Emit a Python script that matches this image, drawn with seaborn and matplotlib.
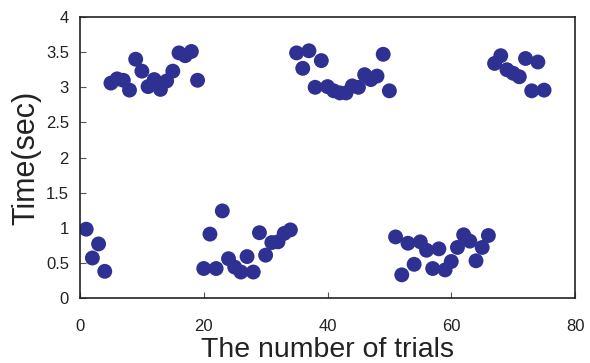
import seaborn as sns
import pandas as pd
import matplotlib.pyplot as plt

trials = list(range(1, 76))
times = [0.98, 0.57, 0.77, 0.38,
         3.06, 3.12, 3.10, 2.96, 3.40, 3.23, 3.01, 3.11, 2.97, 3.09, 3.23, 3.49, 3.45, 3.51, 3.10,
         0.42, 0.91, 0.42, 1.24, 0.56, 0.44, 0.37, 0.59, 0.37, 0.93, 0.61, 0.79, 0.80, 0.92, 0.97,
         3.49, 3.27, 3.52, 3.00, 3.38, 3.01, 2.95, 2.92, 2.92, 3.02, 3.00, 3.18, 3.11, 3.16, 3.47, 2.95,
         0.87, 0.33, 0.78, 0.48, 0.80, 0.68, 0.42, 0.70, 0.40, 0.52, 0.72, 0.90, 0.81, 0.53, 0.72, 0.89,
         3.34, 3.45, 3.25, 3.20, 3.15, 3.41, 2.95, 3.36, 2.96]

df = pd.DataFrame({'trial': trials, 'time': times})

sns.set_style("ticks")
plt.rcParams['font.family'] = ['Liberation Sans', 'DejaVu Sans']

fig = plt.figure(figsize=(5.9, 3.63), dpi=100)
ax = fig.add_axes([0.1356, 0.179, 0.839, 0.774])
sns.scatterplot(data=df, x='trial', y='time', s=115, color='#2e3192',
                edgecolor='none', ax=ax)
ax.set_xlim(0, 80)
ax.set_ylim(0, 4)
ax.set_xticks([0, 20, 40, 60, 80])
ax.set_yticks([0, 0.5, 1, 1.5, 2, 2.5, 3, 3.5, 4])
ax.set_yticklabels(['0', '0.5', '1', '1.5', '2', '2.5', '3', '3.5', '4'])
ax.tick_params(direction='in', length=4, width=0.8, color='#555555', labelsize=12,
               labelcolor='#222222', top=False, right=False)
ax.tick_params(axis='x', pad=15)
ax.tick_params(axis='y', pad=8)
for sp in ax.spines.values():
    sp.set_visible(True)
    sp.set_linewidth(1.2)
    sp.set_color('#222222')
ax.set_xlabel('The number of trials', fontsize=20.5, labelpad=2, color='#222222')
ax.set_ylabel('Time(sec)', fontsize=22, labelpad=3, color='#222222')
fig.savefig('out.png', dpi=100)
